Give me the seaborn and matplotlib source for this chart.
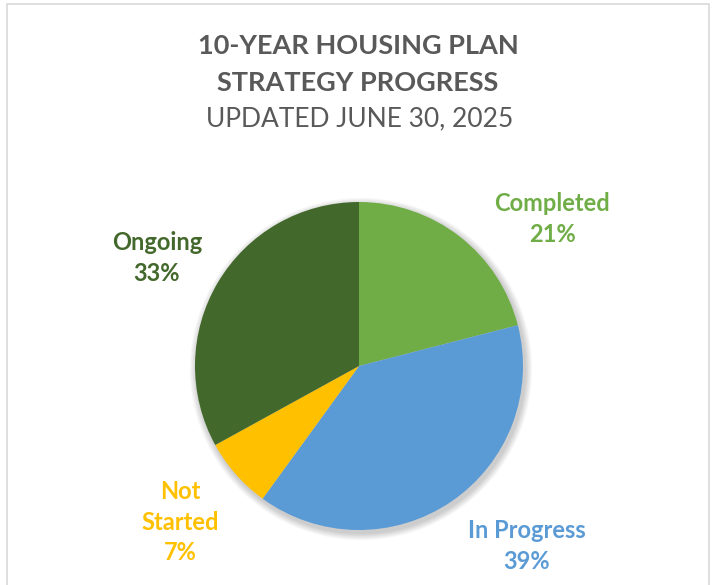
import matplotlib.pyplot as plt
from matplotlib.patches import Circle, Rectangle
import seaborn as sns

# data
status = ['Completed', 'In Progress', 'Not Started', 'Ongoing']
share = [21, 39, 7, 33]
label_text = ['Completed\n21%', 'In Progress\n39%', 'Not\nStarted\n7%', 'Ongoing\n33%']
colors = ['#70AD47', '#5B9BD5', '#FFC000', '#43682B']

W, H = 713, 585
cx, cy, rad = 359, 366, 164   # pie centre / radius in pixels (y from top)
# label centres in pixels (y from top)
label_pos = [(552, 219), (527, 546), (180, 522), (157, 258)]

sns.set_theme(style='white')
plt.rcParams['font.family'] = ['Lato', 'DejaVu Sans']

fig = plt.figure(figsize=(W / 100, H / 100), dpi=100)
ax = fig.add_axes([0, 0, 1, 1])

# chart frame
fig.patches.append(Rectangle((7 / W, -0.1), 702 / W, 1.1 - 4 / H, transform=fig.transFigure,
                             fill=False, edgecolor='#D9D9D9', lw=1.2))

# soft shadow
for i in range(10):
    ax.add_patch(Circle((cx + 2, H - cy - 3), rad + 1 + i * 0.7, color='black',
                        alpha=0.018, lw=0, zorder=1))

ax.pie(share, colors=colors, startangle=90, counterclock=False,
       center=(cx, H - cy), radius=rad, frame=True,
       wedgeprops=dict(linewidth=0, zorder=2))
ax.set_xlim(0, W)
ax.set_ylim(0, H)
ax.set_aspect('equal')
ax.axis('off')

for txt, (x, y), c in zip(label_text, label_pos, colors):
    ax.text(x, H - y, txt, color=c, fontsize=17, fontweight='bold',
            ha='center', va='center', linespacing=1.42)

ax.text(358, H - 46, '10-YEAR HOUSING PLAN', color='#595959', fontsize=19.5,
        fontweight='bold', ha='center', va='center')
ax.text(358, H - 83, 'STRATEGY PROGRESS', color='#595959', fontsize=19.5,
        fontweight='bold', ha='center', va='center')
ax.text(360, H - 119, 'UPDATED JUNE 30, 2025', color='#595959', fontsize=19,
        ha='center', va='center')

fig.savefig('out.png', dpi=100)
